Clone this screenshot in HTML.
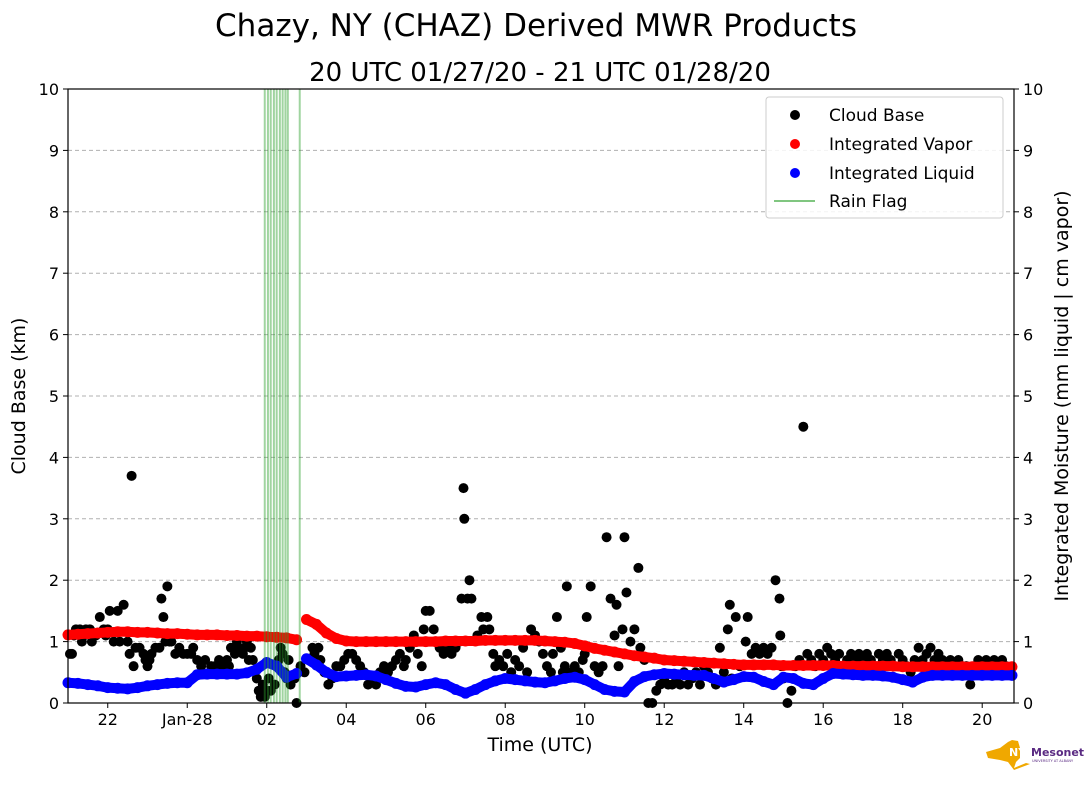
<!DOCTYPE html>
<html><head><meta charset="utf-8">
<style>
body{margin:0;background:#fff;}
svg text{font-family:"DejaVu Sans","Liberation Sans",sans-serif;}
</style></head>
<body>
<svg id="chart" width="1089" height="804" xmlns="http://www.w3.org/2000/svg">
<text x="536" y="36" font-size="31" text-anchor="middle">Chazy, NY (CHAZ) Derived MWR Products</text>
<text x="540" y="81" font-size="26" text-anchor="middle">20 UTC 01/27/20 - 21 UTC 01/28/20</text>
<g id="grid"></g>
<g id="marks"></g>
<g id="axes"></g>
<text x="540" y="751" font-size="19" text-anchor="middle">Time (UTC)</text>
<text transform="translate(25,396) rotate(-90)" font-size="19" text-anchor="middle">Cloud Base (km)</text>
<text transform="translate(1068,396) rotate(-90)" font-size="19" text-anchor="middle">Integrated Moisture (mm liquid | cm vapor)</text>
<g>
<rect x="766" y="97" width="237" height="121" rx="3" fill="#fff" fill-opacity="0.85" stroke="#ccc"/>
<circle cx="795" cy="115" r="5" fill="#000"/>
<text x="829" y="121" font-size="17">Cloud Base</text>
<circle cx="795" cy="144" r="5" fill="red"/>
<text x="829" y="150" font-size="17">Integrated Vapor</text>
<circle cx="795" cy="173" r="5" fill="blue"/>
<text x="829" y="179" font-size="17">Integrated Liquid</text>
<line x1="774" y1="201" x2="815" y2="201" stroke="#2ca02c" stroke-opacity="0.6" stroke-width="2"/>
<text x="829" y="207" font-size="17">Rain Flag</text>
</g>
<g>
<path d="M986 752 L1000 748 L1008 742 L1012 740 L1018 741 L1020 748 L1020 758 L1016 762 L1014 768 L1026 763 L1030 764 L1014 770 L1008 762 L1000 760 L988 758 Z" fill="#f0a800"/>
<text x="1009" y="756" font-size="11" font-weight="bold" fill="#fff">NYS</text>
<text x="1031" y="756" font-size="11" font-weight="bold" fill="#5a2a82">Mesonet</text>
<text x="1032" y="762" font-size="3.5" fill="#5a2a82">UNIVERSITY AT ALBANY</text>
</g>
</svg>
<script>
const xTickLabels = ["22","Jan-28","02","04","06","08","10","12","14","16","18","20"];
const xTickHours = [1,3,5,7,9,11,13,15,17,19,21,23];
const yTicks = [0,1,2,3,4,5,6,7,8,9,10];
const seriesStep = 0.25;
const vapor = [1.11,1.12,1.13,1.14, 1.15,1.16,1.16,1.15, 1.15,1.14,1.13,1.13, 1.12,1.11,1.11,1.11,
 1.10,1.10,1.09,1.09, 1.08,1.07,1.06,1.03, 1.36,1.28,1.14,1.05, 1.01,1.00,1.00,1.00,
 1.00,1.00,1.00,1.00, 1.00,1.00,1.01,1.01, 1.01,1.01,1.02,1.02, 1.02,1.02,1.02,1.02,
 1.01,1.00,0.99,0.97, 0.93,0.89,0.86,0.83, 0.80,0.77,0.75,0.73, 0.70,0.69,0.68,0.67,
 0.66,0.65,0.64,0.63, 0.62,0.62,0.62,0.62, 0.61,0.61,0.61,0.61, 0.61,0.61,0.60,0.60,
 0.60,0.60,0.60,0.60, 0.59,0.59,0.59,0.59, 0.59,0.59,0.59,0.59, 0.59,0.59,0.59,0.59];
const liquid = [0.33,0.32,0.30,0.28, 0.25,0.24,0.23,0.25, 0.28,0.30,0.32,0.33, 0.33,0.46,0.47,0.47,
 0.47,0.47,0.49,0.55, 0.66,0.60,0.42,0.48, 0.72,0.62,0.50,0.43, 0.44,0.45,0.46,0.44,
 0.38,0.32,0.27,0.26, 0.30,0.33,0.30,0.22, 0.16,0.22,0.30,0.36, 0.40,0.38,0.36,0.34,
 0.33,0.36,0.40,0.42, 0.38,0.30,0.22,0.19, 0.18,0.35,0.43,0.46, 0.48,0.47,0.46,0.45,
 0.45,0.40,0.34,0.38, 0.43,0.42,0.35,0.30, 0.42,0.40,0.32,0.30, 0.40,0.48,0.47,0.46,
 0.45,0.45,0.44,0.42, 0.38,0.34,0.42,0.45, 0.45,0.45,0.45,0.45, 0.45,0.45,0.45,0.45];
const cloudTimes = [0.05,0.1,0.15,0.2,0.3,0.35,0.4,0.45,0.55,0.6,0.7,0.8,0.9,0.95,1.0,1.05,1.15,1.25,1.3,1.4,1.5,1.55,1.6,1.65,1.7,1.8,1.9,1.95,2.0,2.05,2.1,2.2,2.3,2.35,2.4,2.45,2.5,2.55,2.6,2.7,2.8,2.9,3.0,3.1,3.15,3.25,3.35,3.45,3.6,3.7,3.8,3.9,4.0,4.05,4.1,4.2,4.25,4.3,4.4,4.45,4.5,4.55,4.6,4.65,4.75,4.8,4.85,4.9,4.95,5.0,5.05,5.1,5.2,5.3,5.35,5.4,5.45,5.5,5.55,5.6,5.7,5.75,5.85,5.95,6.05,6.15,6.2,6.3,6.35,6.45,6.55,6.65,6.75,6.85,6.95,7.05,7.15,7.25,7.35,7.45,7.55,7.65,7.75,7.85,7.95,8.05,8.15,8.25,8.35,8.45,8.5,8.6,8.7,8.8,8.9,8.95,9.0,9.1,9.2,9.25,9.35,9.45,9.55,9.65,9.75,9.85,9.9,9.95,9.97,10.05,10.1,10.15,10.3,10.4,10.45,10.55,10.6,10.7,10.75,10.85,10.95,11.05,11.15,11.25,11.35,11.45,11.55,11.65,11.75,11.85,11.95,12.05,12.15,12.2,12.3,12.4,12.45,12.5,12.55,12.65,12.75,12.85,12.95,13.0,13.05,13.15,13.25,13.35,13.45,13.55,13.65,13.75,13.8,13.85,13.95,14.0,14.05,14.15,14.25,14.35,14.4,14.5,14.6,14.7,14.8,14.9,15.0,15.1,15.2,15.3,15.4,15.5,15.6,15.7,15.8,15.9,16.0,16.1,16.2,16.3,16.4,16.5,16.6,16.65,16.7,16.8,16.9,17.05,17.1,17.2,17.3,17.4,17.5,17.6,17.7,17.8,17.9,17.92,17.95,18.0,18.1,18.2,18.3,18.4,18.5,18.6,18.7,18.8,18.9,19.0,19.1,19.2,19.3,19.4,19.5,19.6,19.7,19.8,19.9,20.0,20.1,20.2,20.3,20.4,20.5,20.6,20.7,20.8,20.9,21.0,21.1,21.2,21.3,21.4,21.5,21.6,21.7,21.8,21.9,22.0,22.1,22.2,22.3,22.4,22.5,22.6,22.7,22.8,22.9,23.0,23.1,23.2,23.3,23.4,23.5,23.6];
const cloudBase = [0.8,0.8,1.1,1.2,1.2,1.0,1.1,1.2,1.2,1.0,1.1,1.4,1.2,1.1,1.2,1.5,1.0,1.5,1.0,1.6,1.0,0.8,3.7,0.6,0.9,0.9,0.8,0.7,0.6,0.7,0.8,0.9,0.9,1.7,1.4,1.0,1.9,1.0,1.0,0.8,0.9,0.8,0.8,0.8,0.9,0.7,0.6,0.7,0.6,0.6,0.7,0.6,0.7,0.6,0.9,0.8,1.0,0.9,0.8,0.9,1.0,0.7,0.9,0.7,0.4,0.2,0.1,0.3,0.1,0.2,0.4,0.2,0.3,0.7,0.9,0.8,0.5,0.4,0.7,0.3,0.4,0.0,0.6,0.5,0.7,0.9,0.8,0.9,0.7,0.5,0.3,0.4,0.6,0.6,0.7,0.8,0.8,0.7,0.6,0.5,0.3,0.4,0.3,0.5,0.6,0.5,0.6,0.7,0.8,0.6,0.7,0.9,1.1,0.8,0.6,1.2,1.5,1.5,1.2,1.0,0.9,0.8,0.9,0.8,0.9,1.0,1.7,3.5,3.0,1.7,2.0,1.7,1.1,1.4,1.2,1.4,1.2,0.8,0.6,0.7,0.6,0.8,0.5,0.7,0.6,0.9,0.5,1.2,1.1,1.0,0.8,0.6,0.5,0.8,1.4,0.9,0.5,0.6,1.9,0.5,0.6,0.5,0.7,0.8,1.4,1.9,0.6,0.5,0.6,2.7,1.7,1.1,1.6,0.6,1.2,2.7,1.8,1.0,1.2,2.2,0.9,0.7,0.0,0.0,0.2,0.3,0.4,0.3,0.3,0.4,0.3,0.5,0.3,0.4,0.5,0.3,0.6,0.5,0.4,0.3,0.9,0.5,1.2,1.6,0.4,1.4,0.6,1.0,1.4,0.8,0.9,0.8,0.9,0.8,0.9,2.0,1.7,1.1,0.6,0.4,0.0,0.2,0.6,0.7,4.5,0.8,0.7,0.6,0.8,0.7,0.9,0.8,0.7,0.8,0.6,0.7,0.8,0.7,0.8,0.7,0.8,0.7,0.6,0.8,0.7,0.8,0.7,0.6,0.8,0.7,0.6,0.5,0.7,0.9,0.7,0.8,0.9,0.7,0.8,0.7,0.6,0.7,0.6,0.7,0.6,0.6,0.3,0.6,0.7,0.6,0.7,0.6,0.7,0.6,0.7,0.6,0.7];
const rainFlagTimes = [4.95,5.03,5.1,5.18,5.25,5.33,5.4,5.47,5.53,5.83];

const X0=68, X1=1014, Y0=703, Y1=89, TMAX=23.8;
const NS="http://www.w3.org/2000/svg";
function xs(t){return X0+(t/TMAX)*(X1-X0);}
function ys(v){return Y0-(v/10)*(Y0-Y1);}
function mk(tag,attrs,parent){const e=document.createElementNS(NS,tag);for(const k in attrs)e.setAttribute(k,attrs[k]);parent.appendChild(e);return e;}
const grid=document.getElementById('grid'), marks=document.getElementById('marks'), axes=document.getElementById('axes');

yTicks.forEach(v=>{
  if(v>0&&v<10){const g=mk('line',{x1:X0,x2:X1,y1:ys(v),y2:ys(v),stroke:'#b0b0b0','stroke-dasharray':'4,3','stroke-width':1},grid);
  
  }
  const tl=mk('line',{x1:X0-5,x2:X0,y1:ys(v),y2:ys(v),stroke:'#000'},axes);
  
  
  const tr=mk('line',{x1:X1,x2:X1+5,y1:ys(v),y2:ys(v),stroke:'#000'},axes);
  
  
  const a=mk('text',{x:X0-9,y:ys(v)+6,'font-size':16,'text-anchor':'end'},axes);a.textContent=v;
  
  
  const b=mk('text',{x:X1+9,y:ys(v)+6,'font-size':16},axes);b.textContent=v;
  
  
});
xTickHours.forEach((h,i)=>{
  const t=mk('line',{x1:xs(h),x2:xs(h),y1:Y0,y2:Y0+5,stroke:'#000'},axes);
  
  
  const l=mk('text',{x:xs(h),y:Y0+22,'font-size':16,'text-anchor':'middle'},axes);l.textContent=xTickLabels[i];
  
  
});
const frame=mk('rect',{x:X0,y:Y1,width:X1-X0,height:Y0-Y1,fill:'none',stroke:'#000','stroke-width':1.2},axes);



cloudTimes.forEach((t,i)=>{
  const v=cloudBase[i];
  if(v===undefined)return;
  const c=mk('circle',{cx:xs(t),cy:ys(v),r:5,fill:'#000'},marks);
  
  
});
function drawSeries(vals,color,name){
  let pts=[];
  vals.forEach((v,i)=>{
    const t=i*seriesStep;
    if(t>TMAX)return;
    pts.push([xs(t),ys(v)]);
  });
  let seg=[pts[0]];
  const flush=()=>{if(seg.length>1){const p=mk('polyline',{points:seg.map(q=>q.join(',')).join(' '),fill:'none',stroke:color,'stroke-width':10,'stroke-linecap':'round','stroke-linejoin':'round'},marks);
    
    }};
  for(let i=1;i<pts.length;i++){
    if(Math.abs(pts[i][1]-pts[i-1][1])>12){flush();seg=[];}
    seg.push(pts[i]);
  }
  flush();
  pts.forEach(p=>{
    const c=mk('circle',{cx:p[0],cy:p[1],r:5.5,fill:color},marks);
    
    
  });
}
drawSeries(vapor,'red','integrated-vapor');
drawSeries(liquid,'blue','integrated-liquid');
rainFlagTimes.forEach(t=>{
  const l=mk('line',{x1:xs(t),x2:xs(t),y1:Y1,y2:Y0,stroke:'#2ca02c','stroke-opacity':0.45,'stroke-width':2},marks);
  
  
});
</script>
</body></html>
